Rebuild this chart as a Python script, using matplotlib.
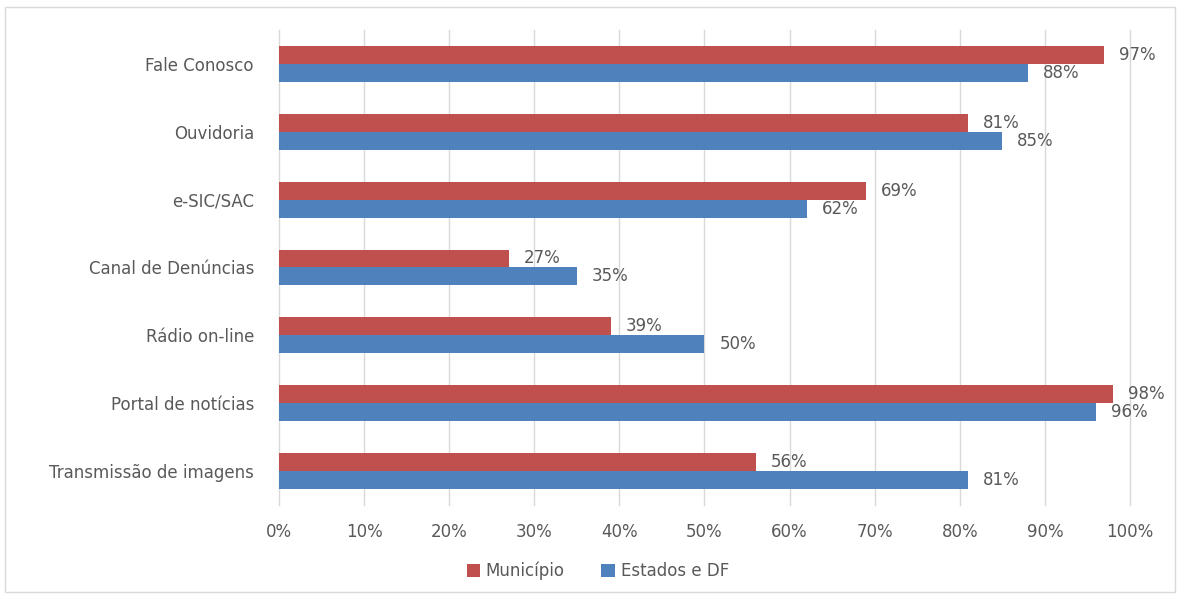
import matplotlib
matplotlib.use('Agg')
import matplotlib.pyplot as plt
from matplotlib.patches import Rectangle
import numpy as np

# Dados (de baixo para cima)
categorias = ['Transmissão de imagens', 'Portal de notícias', 'Rádio on-line',
              'Canal de Denúncias', 'e-SIC/SAC', 'Ouvidoria', 'Fale Conosco']
municipio = [56, 98, 39, 27, 69, 81, 97]
estados_df = [81, 96, 50, 35, 62, 85, 88]
ticks_x = [0, 10, 20, 30, 40, 50, 60, 70, 80, 90, 100]

cor_mun = '#C0504D'
cor_est = '#4F81BD'
cinza = '#595959'

plt.rcParams['font.family'] = ['DejaVu Sans']

fig = plt.figure(figsize=(11.79, 5.96), dpi=100)
ax = fig.add_axes([0.2366, 0.1527, 0.7218, 0.797])

y = np.arange(len(categorias))
h = 0.265
b1 = ax.barh(y + h / 2, municipio, height=h, color=cor_mun, label='Município')
b2 = ax.barh(y - h / 2, estados_df, height=h, color=cor_est, label='Estados e DF')

for barras, vals in ((b1, municipio), (b2, estados_df)):
    for barra, v in zip(barras, vals):
        ax.annotate(f'{v}%', (v, barra.get_y() + barra.get_height() / 2),
                    xytext=(15, 0), textcoords='offset pixels',
                    ha='left', va='center', fontsize=12, color=cinza)

ax.set_xlim(0, 100)
ax.set_ylim(-0.5, 6.5)
ax.set_xticks(ticks_x)
ax.set_xticklabels([f'{t}%' for t in ticks_x], fontsize=12, color=cinza)
ax.set_yticks(y)
ax.set_yticklabels(categorias, fontsize=12, color=cinza)
ax.tick_params(axis='both', length=0)
ax.tick_params(axis='x', pad=13)
ax.tick_params(axis='y', pad=18)
for s in ax.spines.values():
    s.set_visible(False)
ax.grid(axis='x', color='#d9d9d9', linewidth=1)
for gl in ax.get_xgridlines():
    gl.set_clip_on(False)
ax.set_axisbelow(True)

fig.legend(handles=[b1, b2], loc='center', bbox_to_anchor=(0.507, 0.042), ncol=2,
           frameon=False, fontsize=12, labelcolor=cinza, handlelength=0.8,
           handleheight=0.8, handletextpad=0.35, columnspacing=2.2)

fig.patches.append(Rectangle((5 / 1179, 4 / 596), 1170 / 1179, 585 / 596,
                             transform=fig.transFigure, fill=False,
                             edgecolor='#d9d9d9', linewidth=1))

fig.savefig('out.png', dpi=100)
